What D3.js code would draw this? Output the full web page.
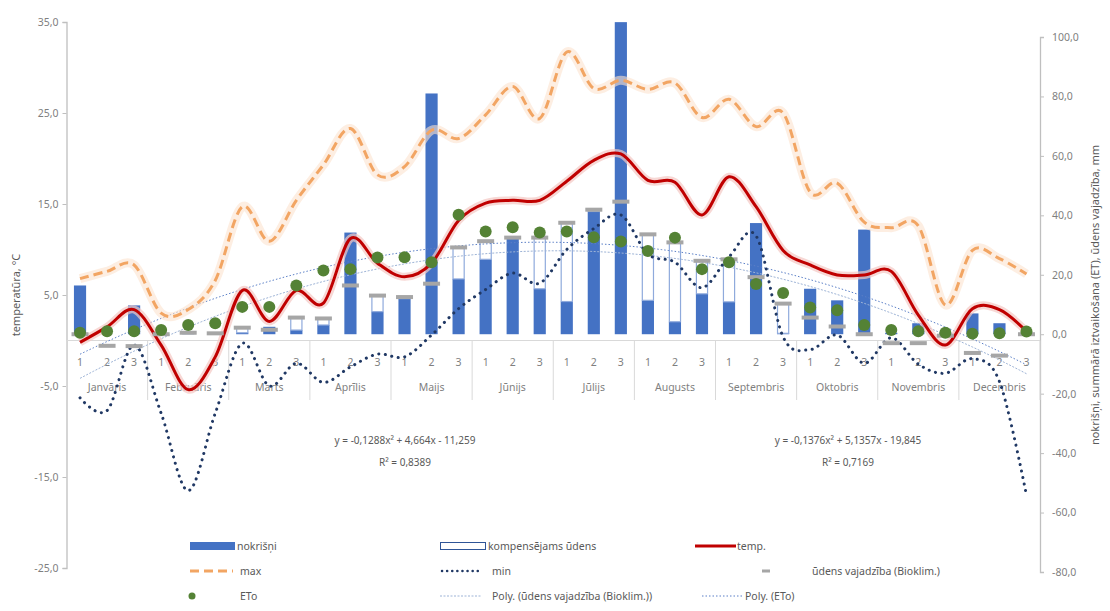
<!DOCTYPE html>
<html>
<head>
<meta charset="utf-8">
<script src="https://cdn.jsdelivr.net/npm/d3@7"></script>
<style>
  body { margin: 0; background: #fff; }
  svg text { font-family: "Noto Sans", "Open Sans", sans-serif; }
</style>
</head>
<body>
<svg id="chart" width="1110" height="611"></svg>
<script>
// ---- data ----
var months = ["Janvāris","Februāris","Marts","Aprīlis","Maijs","Jūnijs","Jūlijs","Augusts","Septembris","Oktobris","Novembris","Decembris"];
var decades = ["1","2","3"];

// nokrišņi, mm (right axis)
var nokrisni = [16.4,0,9.7, 0.3,0.3,0.3, 0.5,2.5,1.4, 3.1,34.2,7.6, 12,81,18.6, 25.2,32.5,15.3,
                11,41.3,105, 11.4,4.2,13.6, 10.9,37.4,0.3, 15.3,11.4,35.2, 0.5,3.7,0.5, 7,3.7,0.3];
// kompensējams ūdens, mm (stacked on nokrišņi)
var kompens = [0,0,0, 0,0,0, 1.7,0,4.2, 2.2,0,5.4, 0.5,0,10.6, 6.1,0,17.2,
               26.5,0.6,0, 22.2,26.6,11.1, 14.3,0,10, 0,0,0, 0,0,0, 0,0,0];
// ūdens vajadzība (Bioklim.), mm
var vajadziba = [0,-3.9,-4, 0,0.5,0.3, 2.2,1.5,5.6, 5.3,16.4,13, 12.5,17,29.2, 31.3,32.5,32.5,
                 37.5,41.9,44.6, 33.6,30.9,24.7, 25.2,19.2,10.3, 5.6,2.6,0, -3,-3,-0.5, -6.3,-7.2,0];
// ETo, mm
var eto = [0.5,1,1, 1.4,3.1,3.7, 9.2,9.2,16.4, 21.4,21.9,25.8, 25.9,24.2,40.2, 34.6,36,34.2,
           34.6,32.6,31.2, 28,32.5,21.9, 24.2,16.9,13.9, 9,8.1,3.1, 1.4,1,0.5, 0.2,0.3,0.9];
// temperatures, °C (left axis)
var temp = [-0.2,1.5,3.4, -0.5,-5.4,-1.8, 5.5,2.1,5.5, 4.1,11.2,8.5, 7,8.5,13.2, 15.1,15.4,15.4,
            17.5,19.8,20.5, 17.6,17.4,13.8, 18,14.7,9.9, 8.3,7.2,7.2, 7.6,2.8,-0.5, 3.5,3.4,1];
var tmax = [6.8,7.6,8.3, 3.0,3.4,6.6, 14.7,10.9,15.4, 19.3,23.3,18.2, 19.1,23.1,22.2, 24.8,27.9,24.4,
            31.7,27.7,28.6, 27.6,28.3,24.5, 26.5,23.5,25, 16.3,17.3,13, 12.4,12.6,3.9, 9.9,9,7.3];
var tmin = [-6.3,-7.7,-0.5, -8,-16.5,-8, -0.3,-5,-2.5, -4.6,-2.9,-1.5, -1.8,0.6,3.5, 5.6,7.4,6.3,
            10,12.3,13.8, 9.5,8.6,5.8, 9.2,11.5,0.4, -1,0.6,-2.5, 0.3,-2.6,-3.6, -2,-4.5,-17];
// trendline coefficients as printed on the chart [a, b, c] for a*x^2 + b*x + c
var polyEto = [-0.1288, 4.664, -11.259];
var polyVaj = [-0.1376, 5.1357, -19.845];
var tempTicks = [-25,-15,-5,5,15,25,35];
var mmTicks = [-80,-60,-40,-20,0,20,40,60,80,100];

// ---- setup ----
var svg = d3.select("#chart");
var grey = "#595959", axisGrey = "#BFBFBF";
var n = nokrisni.length;
var idx = d3.range(n);

var x = d3.scaleBand().domain(idx).range([66.5, 1040]).padding(0);
var cx = function(i){ return x(i) + x.bandwidth() / 2; };
var barW = x.bandwidth() * 0.45;
var yT = d3.scaleLinear().domain([-25, 35]).range([568, 22]);
var yP = d3.scaleLinear().domain([-80, 100]).range([572, 37]);
var fmt = function(d){ return d3.format(".1f")(d).replace(".", ",").replace("−", "-"); };

// ---- axes ----
var gl = svg.append("g").attr("transform", "translate(66.5,0)")
  .call(d3.axisLeft(yT).tickValues(tempTicks).tickSize(4).tickPadding(4).tickFormat(fmt));
var gr = svg.append("g").attr("transform", "translate(1040,0)")
  .call(d3.axisRight(yP).tickValues(mmTicks).tickSize(4).tickPadding(8).tickFormat(fmt));
[gl, gr].forEach(function(g){
  g.select(".domain").attr("stroke", axisGrey).attr("stroke-width", 1.3);
  g.selectAll(".tick line").attr("stroke", axisGrey);
  g.selectAll(".tick text").attr("fill", "#7F7F7F").style("font-size", "10.5px")
    .style("font-family", "'Noto Sans', sans-serif");
});

// axis titles
svg.append("text").attr("transform", "translate(20,295) rotate(-90)")
  .attr("text-anchor", "middle").attr("fill", grey).style("font-size", "11px")
  .text("temperatūra, °C");
svg.append("text").attr("transform", "translate(1099,295) rotate(-90)")
  .attr("text-anchor", "middle").attr("fill", grey).style("font-size", "11px")
  .text("nokrišņi, summārā iztvaikošana (ET), ūdens vajadzība, mm");

// category axis (two levels)
var y0 = yT(0);
svg.append("line").attr("x1", 66.5).attr("x2", 1040).attr("y1", y0).attr("y2", y0)
  .attr("stroke", "#D9D9D9").attr("stroke-width", 1);
d3.range(0, n + 1, 3).forEach(function(i){
  var xx = i < n ? x(i) : 1040;
  svg.append("line").attr("x1", xx).attr("x2", xx).attr("y1", y0).attr("y2", 400)
    .attr("stroke", "#D9D9D9");
});
svg.selectAll(".dec").data(idx).enter().append("text")
  .attr("x", cx).attr("y", 366).attr("text-anchor", "middle")
  .attr("fill", "#7F7F7F").style("font-size", "10.5px")
  .text(function(i){ return decades[i % 3]; });
svg.selectAll(".mon").data(months).enter().append("text")
  .attr("x", function(d, m){ return cx(m * 3 + 1); }).attr("y", 391).attr("text-anchor", "middle")
  .attr("fill", "#7F7F7F").style("font-size", "10.5px")
  .text(function(d){ return d; });

// ---- bars ----
svg.selectAll(".nok").data(idx).enter().append("rect")
  .attr("x", function(i){ return cx(i) - barW / 2; })
  .attr("y", function(i){ return yP(nokrisni[i]); })
  .attr("width", barW)
  .attr("height", function(i){ return yP(0) - yP(nokrisni[i]); })
  .attr("fill", "#4472C4");
svg.selectAll(".komp").data(idx.filter(function(i){ return kompens[i] > 0; })).enter().append("rect")
  .attr("x", function(i){ return cx(i) - barW / 2 + 0.5; })
  .attr("y", function(i){ return yP(nokrisni[i] + kompens[i]); })
  .attr("width", barW - 1)
  .attr("height", function(i){ return yP(nokrisni[i]) - yP(nokrisni[i] + kompens[i]); })
  .attr("fill", "#fff").attr("stroke", "#8FAADC").attr("stroke-width", 1.2);

// ---- trendlines ----
var xs = d3.range(1, n + 0.01, 0.25);
function drawPoly(c, color, dash){
  var pts = xs.map(function(v){ return [cx(0) + (v - 1) * x.step(), yP(c[0]*v*v + c[1]*v + c[2])]; });
  svg.append("path").attr("d", d3.line()(pts)).attr("fill", "none")
    .attr("stroke", color).attr("stroke-width", 1).attr("stroke-dasharray", dash);
}
drawPoly(polyVaj, "#9DB3D6", "2,1.5");
drawPoly(polyEto, "#5B7FC7", "1.5,2");

// ---- lines ----
var curve = d3.curveCatmullRom.alpha(0);
function tLine(arr){
  return d3.line().curve(curve).x(function(d, i){ return cx(i); }).y(function(d){ return yT(d); })(arr);
}
// glow
svg.append("path").attr("d", tLine(tmax)).attr("fill", "none")
  .attr("stroke", "#FBE3CF").attr("stroke-width", 9).attr("stroke-opacity", 0.6);
svg.append("path").attr("d", tLine(tmax)).attr("fill", "none")
  .attr("stroke", "#F2A563").attr("stroke-width", 3).attr("stroke-dasharray", "9,5");
svg.append("path").attr("d", tLine(tmin)).attr("fill", "none")
  .attr("stroke", "#203864").attr("stroke-width", 3).attr("stroke-linecap", "round")
  .attr("stroke-dasharray", "0.1,6.5");
svg.append("path").attr("d", tLine(temp)).attr("fill", "none")
  .attr("stroke", "#F4C7C3").attr("stroke-width", 8).attr("stroke-opacity", 0.7);
svg.append("path").attr("d", tLine(temp)).attr("fill", "none")
  .attr("stroke", "#C00000").attr("stroke-width", 3);

// ūdens vajadzība markers (dashes)
svg.selectAll(".vaj").data(idx).enter().append("rect")
  .attr("x", function(i){ return cx(i) - 8.5; })
  .attr("y", function(i){ return yP(vajadziba[i]) - 2; })
  .attr("width", 17).attr("height", 4)
  .attr("fill", "#A6A6A6");

// ETo markers
svg.selectAll(".eto").data(idx).enter().append("circle")
  .attr("cx", cx).attr("cy", function(i){ return yP(eto[i]); })
  .attr("r", 6).attr("fill", "#548235");

// ---- regression equations ----
var eqs = [
  {x: 405, a: "y = -0,1288x² + 4,664x - 11,259", b: "R² = 0,8389"},
  {x: 848, a: "y = -0,1376x² + 5,1357x - 19,845", b: "R² = 0,7169"}
];
eqs.forEach(function(e){
  svg.append("text").attr("x", e.x).attr("y", 444).attr("text-anchor", "middle")
    .attr("fill", grey).style("font-size", "10px").text(e.a);
  svg.append("text").attr("x", e.x).attr("y", 466).attr("text-anchor", "middle")
    .attr("fill", grey).style("font-size", "10px").text(e.b);
});

// ---- legend ----
var lg = svg.append("g").style("font-size", "10.5px");
function ltext(xx, yy, t){
  lg.append("text").attr("x", xx).attr("y", yy + 4).attr("fill", grey).text(t);
}
var r1 = 546, r2 = 571, r3 = 596;
lg.append("rect").attr("x", 190).attr("y", r1 - 4).attr("width", 45).attr("height", 8).attr("fill", "#4472C4");
ltext(237, r1, "nokrišņi");
lg.append("rect").attr("x", 440.5).attr("y", r1 - 3.5).attr("width", 45).attr("height", 7)
  .attr("fill", "#fff").attr("stroke", "#2F5597").attr("stroke-width", 1);
ltext(488, r1, "kompensējams ūdens");
lg.append("line").attr("x1", 695).attr("x2", 736).attr("y1", r1).attr("y2", r1)
  .attr("stroke", "#C00000").attr("stroke-width", 3);
ltext(737, r1, "temp.");
lg.append("line").attr("x1", 190).attr("x2", 233).attr("y1", r2).attr("y2", r2)
  .attr("stroke", "#F2A563").attr("stroke-width", 3).attr("stroke-dasharray", "9,5");
ltext(240, r2, "max");
lg.append("line").attr("x1", 442).attr("x2", 482).attr("y1", r2).attr("y2", r2)
  .attr("stroke", "#203864").attr("stroke-width", 2.5).attr("stroke-linecap", "round")
  .attr("stroke-dasharray", "0.1,5");
ltext(492, r2, "min");
lg.append("rect").attr("x", 762).attr("y", r2 - 1.5).attr("width", 8).attr("height", 3).attr("fill", "#A6A6A6");
ltext(812, r2, "ūdens vajadzība (Bioklim.)");
lg.append("circle").attr("cx", 192).attr("cy", r3).attr("r", 3.5).attr("fill", "#548235");
ltext(240, r3, "ETo");
lg.append("line").attr("x1", 440).attr("x2", 482).attr("y1", r3).attr("y2", r3)
  .attr("stroke", "#9DB3D6").attr("stroke-width", 1).attr("stroke-dasharray", "2,1.5");
ltext(492, r3, "Poly. (ūdens vajadzība (Bioklim.))");
lg.append("line").attr("x1", 702).attr("x2", 742).attr("y1", r3).attr("y2", r3)
  .attr("stroke", "#5B7FC7").attr("stroke-width", 1).attr("stroke-dasharray", "1.5,2");
ltext(745, r3, "Poly. (ETo)");
</script>
</body>
</html>
